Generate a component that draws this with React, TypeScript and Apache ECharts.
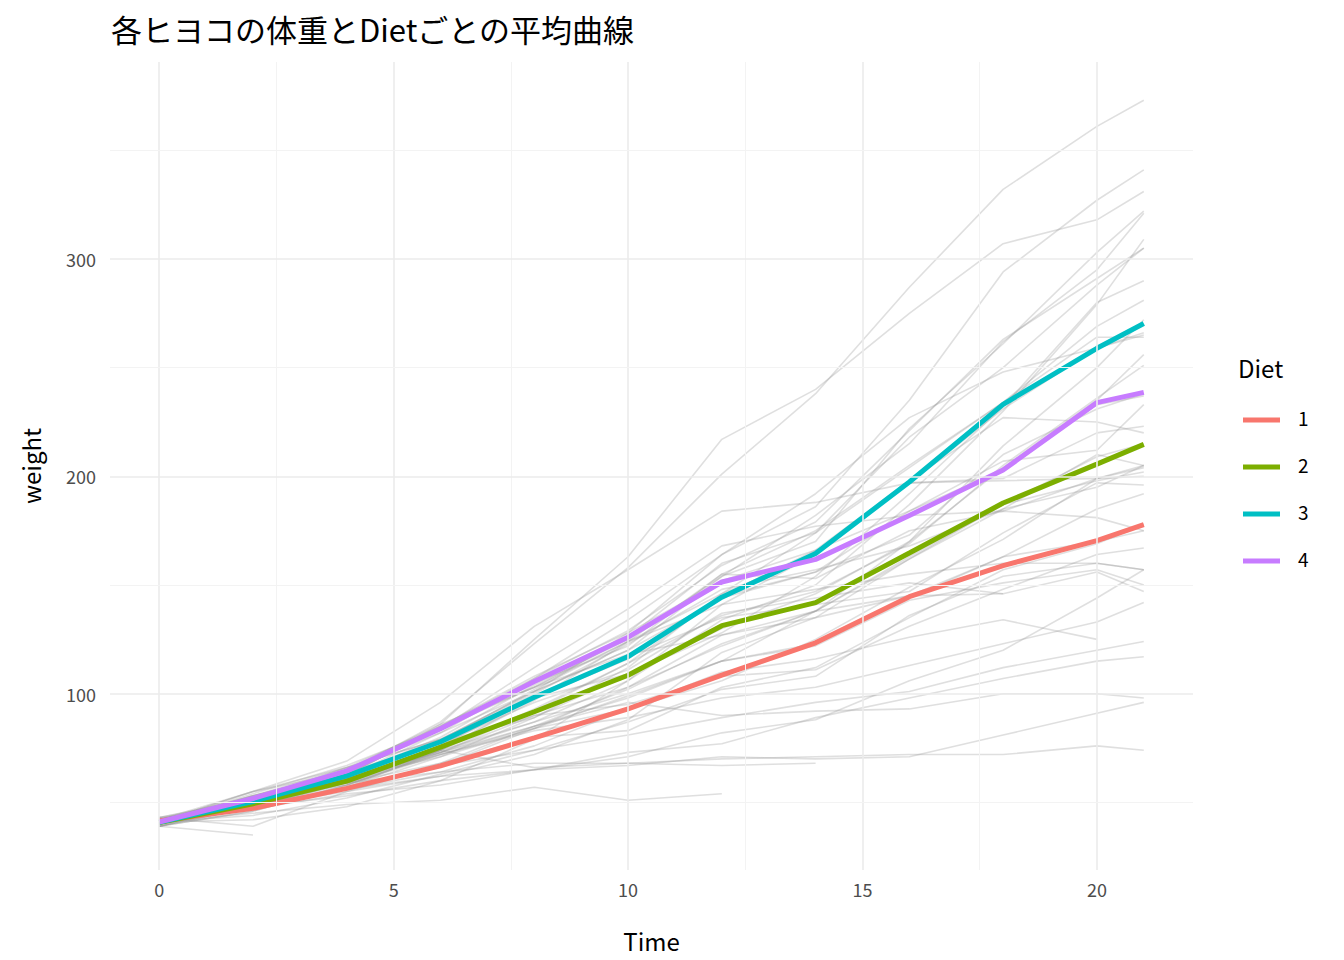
import React, { useEffect, useRef } from "react";
import * as echarts from "echarts";

const times = [0, 2, 4, 6, 8, 10, 12, 14, 16, 18, 20, 21];
const chicks: number[][] = [
  [42, 51, 59, 64, 76, 93, 106, 125, 149, 171, 199, 205],
  [40, 49, 58, 72, 84, 103, 122, 138, 162, 187, 209, 215],
  [43, 39, 55, 67, 84, 99, 115, 138, 163, 187, 198, 202],
  [42, 49, 56, 67, 74, 87, 102, 108, 136, 154, 160, 157],
  [41, 42, 48, 60, 79, 106, 141, 164, 197, 199, 220, 223],
  [41, 49, 59, 74, 97, 124, 141, 148, 155, 160, 160, 157],
  [41, 49, 57, 71, 89, 112, 146, 174, 218, 250, 288, 305],
  [42, 50, 61, 71, 84, 93, 110, 116, 126, 134, 125],
  [42, 51, 59, 68, 85, 96, 90, 92, 93, 100, 100, 98],
  [41, 44, 52, 63, 74, 81, 89, 96, 101, 112, 120, 124],
  [43, 51, 63, 84, 112, 139, 168, 177, 182, 184, 181, 175],
  [41, 49, 56, 62, 72, 88, 119, 135, 162, 185, 195, 205],
  [41, 48, 53, 60, 65, 67, 71, 70, 71, 81, 91, 96],
  [41, 49, 62, 79, 101, 128, 164, 192, 227, 248, 259, 266],
  [41, 49, 56, 64, 68, 68, 67, 68],
  [41, 45, 49, 51, 57, 51, 54],
  [42, 51, 61, 72, 83, 89, 98, 103, 113, 123, 133, 142],
  [39, 35],
  [43, 48, 55, 62, 65, 71, 82, 88, 106, 120, 144, 157],
  [41, 47, 54, 58, 65, 73, 77, 89, 98, 107, 115, 117],
  [40, 50, 62, 86, 125, 163, 217, 240, 275, 307, 318, 331],
  [41, 55, 64, 77, 90, 95, 108, 111, 131, 148, 164, 167],
  [43, 52, 61, 73, 90, 103, 127, 135, 145, 163, 170, 175],
  [42, 52, 58, 74, 66, 68, 70, 71, 72, 72, 76, 74],
  [40, 49, 62, 78, 102, 124, 146, 164, 197, 231, 259, 265],
  [42, 48, 57, 74, 93, 114, 136, 147, 169, 205, 236, 251],
  [39, 46, 58, 73, 87, 100, 115, 123, 144, 163, 185, 192],
  [39, 46, 58, 73, 92, 114, 145, 156, 184, 207, 212, 233],
  [39, 48, 59, 74, 87, 106, 134, 150, 187, 230, 279, 309],
  [42, 48, 59, 72, 85, 98, 115, 122, 143, 151, 157, 150],
  [42, 53, 62, 73, 85, 102, 123, 138, 170, 204, 235, 256],
  [41, 49, 65, 82, 107, 129, 159, 179, 221, 263, 291, 305],
  [39, 50, 63, 77, 96, 111, 137, 144, 151, 146, 156, 147],
  [41, 49, 63, 85, 107, 134, 164, 186, 235, 294, 327, 341],
  [41, 53, 64, 87, 123, 158, 201, 238, 287, 332, 361, 373],
  [39, 48, 61, 76, 98, 116, 145, 166, 198, 227, 225, 220],
  [41, 48, 56, 68, 80, 83, 103, 112, 135, 157, 169, 178],
  [41, 49, 61, 74, 98, 109, 128, 154, 192, 232, 280, 290],
  [42, 50, 61, 78, 89, 109, 130, 146, 170, 214, 250, 272],
  [41, 55, 66, 79, 101, 120, 154, 182, 215, 262, 295, 321],
  [42, 51, 66, 85, 103, 124, 155, 153, 175, 184, 199, 204],
  [42, 49, 63, 84, 103, 126, 160, 174, 204, 234, 269, 281],
  [42, 55, 69, 96, 131, 157, 184, 188, 197, 198, 199, 200],
  [42, 51, 65, 86, 103, 118, 127, 138, 145, 146],
  [41, 50, 61, 78, 98, 117, 135, 141, 147, 174, 197, 196],
  [40, 52, 62, 82, 101, 120, 144, 156, 173, 210, 231, 238],
  [41, 53, 66, 79, 100, 123, 148, 157, 168, 185, 210, 205],
  [39, 50, 62, 80, 104, 125, 154, 170, 222, 261, 303, 322],
  [40, 53, 64, 85, 108, 128, 152, 166, 184, 203, 233, 237],
  [41, 54, 67, 84, 105, 122, 155, 175, 205, 234, 264, 264],
];
const dietNames = ["1", "2", "3", "4"];
const dietColors = ["#F8766D", "#7CAE00", "#00BFC4", "#C77CFF"];
const dietMeans: number[][] = [
  [41.4, 47.25, 56.47, 66.79, 79.68, 93.05, 108.53, 123.39, 144.64, 158.94, 170.41, 177.75],
  [40.7, 49.4, 59.8, 75.4, 91.7, 108.5, 131.3, 141.9, 164.7, 187.7, 205.6, 214.7],
  [40.8, 50.4, 62.2, 77.9, 98.4, 117.1, 144.4, 164.5, 197.4, 233.1, 258.9, 270.3],
  [41.0, 51.8, 64.5, 83.9, 105.6, 126.0, 151.4, 161.8, 182.0, 202.9, 233.9, 238.6],
];
const xTicks = [0, 5, 10, 15, 20];
const xMinor = [2.5, 7.5, 12.5, 17.5];
const yTicks = [100, 200, 300];
const yMinor = [50, 150, 250, 350];

const FONT = "'Noto Sans CJK JP', 'Noto Sans', sans-serif";

export default function App() {
  const ref = useRef<HTMLDivElement>(null);
  useEffect(() => {
    const chart = echarts.init(ref.current!, null, { renderer: "svg" });
    const major = { color: "#EBEBEB", width: 1.6, type: "solid" };
    const minor = { color: "#F3F3F3", width: 1, type: "solid" };
    const tickLabel = (v: number, pos: string, extra: any) => ({
      show: true, position: pos, formatter: String(v), color: "#4D4D4D",
      fontSize: 18, fontFamily: FONT, ...extra,
    });
    const gridLines = [
      ...xTicks.map((v) => ({ xAxis: v, lineStyle: major, label: tickLabel(v, "start", { distance: 10 }) })),
      ...xMinor.map((v) => ({ xAxis: v, lineStyle: minor, label: { show: false } })),
      ...yTicks.map((v) => ({ yAxis: v, lineStyle: major, label: tickLabel(v, "start", { distance: 14 }) })),
      ...yMinor.map((v) => ({ yAxis: v, lineStyle: minor, label: { show: false } })),
    ];
    const series: any[] = [
      {
        type: "line", data: [], silent: true,
        markLine: { silent: true, symbol: "none", data: gridLines },
      },
      ...chicks.map((c) => ({
        type: "line", silent: true, symbol: "none",
        data: c.map((w, i) => [times[i], w]),
        lineStyle: { color: "rgba(150,150,150,0.3)", width: 1.6 },
      })),
      ...dietMeans.map((m, d) => ({
        type: "line", name: dietNames[d], symbol: "none",
        data: m.map((w, i) => [times[i], w]),
        lineStyle: { color: dietColors[d], width: 5 },
      })),
    ];
    const legendItems: any[] = [
      { type: "text", left: 1238, top: 355, style: { text: "Diet", font: `24px ${FONT}`, fill: "#000" } },
    ];
    dietNames.forEach((n, i) => {
      const y = 420 + i * 47;
      legendItems.push({ type: "line", shape: { x1: 1243, y1: y, x2: 1280, y2: y }, style: { stroke: dietColors[i], lineWidth: 5 } });
      legendItems.push({ type: "text", left: 1298, top: y - 12, style: { text: n, font: `19px ${FONT}`, fill: "#000" } });
    });
    chart.setOption({
      animation: false,
      textStyle: { fontFamily: FONT },
      title: {
        text: "各ヒヨコの体重とDietごとの平均曲線", left: 106, top: 8,
        textStyle: { fontSize: 31, fontWeight: "normal", color: "#000", fontFamily: FONT },
      },
      grid: { left: 110, right: 151, top: 62, bottom: 90 },
      xAxis: {
        type: "value", min: -1.05, max: 22.05,
        name: "Time", nameLocation: "middle", nameGap: 58,
        nameTextStyle: { fontSize: 24, color: "#000" },
        axisLine: { show: false }, axisTick: { show: false }, splitLine: { show: false },
        axisLabel: { show: false },
      },
      yAxis: {
        type: "value", min: 18.9, max: 390.6,
        name: "weight", nameLocation: "middle", nameGap: 68, nameRotate: 90,
        nameTextStyle: { fontSize: 24, color: "#000" },
        axisLine: { show: false }, axisTick: { show: false }, splitLine: { show: false },
        axisLabel: { show: false },
      },
      graphic: legendItems,
      series,
    });
    return () => chart.dispose();
  }, []);
  return <div ref={ref} style={{ width: 1344, height: 960, position: "absolute", left: 0, top: 0 }} />;
}
